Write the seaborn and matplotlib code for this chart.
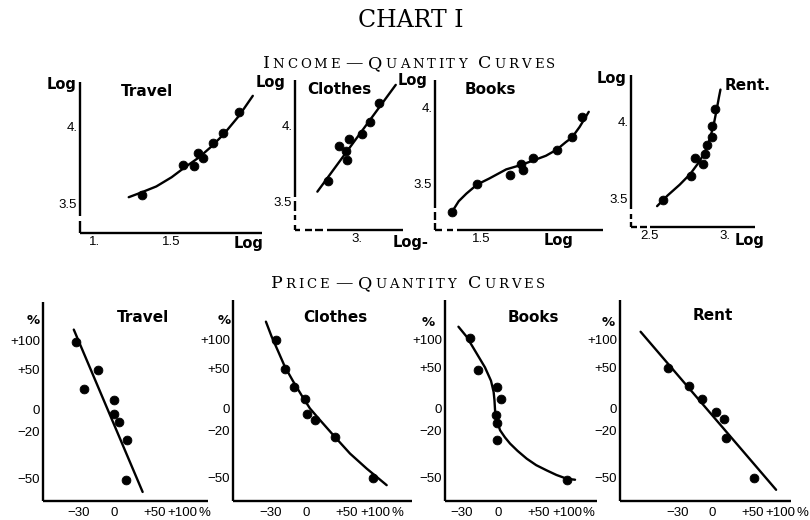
import numpy as np
import matplotlib
matplotlib.use("Agg")
import matplotlib.pyplot as plt
import seaborn as sns

# ---------------- Income - Quantity (log income vs log quantity) ----------------
inc_travel_x = [1.305, 1.577, 1.647, 1.675, 1.704, 1.767, 1.834, 1.943]
inc_travel_y = [3.553, 3.749, 3.743, 3.826, 3.793, 3.891, 3.961, 4.092]
inc_travel_cx = [1.22, 1.30, 1.40, 1.50, 1.58, 1.68, 1.76, 1.84, 1.94, 2.03]
inc_travel_cy = [3.54, 3.57, 3.61, 3.67, 3.73, 3.80, 3.87, 3.95, 4.07, 4.20]

inc_clothes_x = [2.814, 2.885, 2.929, 2.935, 2.953, 3.032, 3.087, 3.147]
inc_clothes_y = [3.636, 3.866, 3.834, 3.774, 3.912, 3.945, 4.026, 4.151]
inc_clothes_cx = [2.745, 3.253]
inc_clothes_cy = [3.566, 4.268]

inc_books_x = [1.304, 1.467, 1.685, 1.755, 1.772, 1.833, 1.995, 2.088, 2.158]
inc_books_y = [3.311, 3.494, 3.550, 3.627, 3.583, 3.664, 3.720, 3.801, 3.934]
inc_books_cx = [1.30, 1.35, 1.40, 1.47, 1.55, 1.66, 1.76, 1.84, 1.92, 1.99, 2.05, 2.09, 2.14, 2.20]
inc_books_cy = [3.30, 3.38, 3.43, 3.49, 3.53, 3.59, 3.62, 3.65, 3.68, 3.72, 3.77, 3.80, 3.87, 3.97]

inc_rent_x = [2.588, 2.775, 2.802, 2.852, 2.868, 2.883, 2.912, 2.916, 2.934]
inc_rent_y = [3.493, 3.646, 3.761, 3.722, 3.787, 3.848, 3.898, 3.972, 4.083]
inc_rent_cx = [2.55, 2.62, 2.70, 2.77, 2.83, 2.87, 2.90, 2.925, 2.945, 2.96, 2.97]
inc_rent_cy = [3.45, 3.52, 3.59, 3.66, 3.74, 3.81, 3.89, 3.98, 4.08, 4.16, 4.21]

# ---------------- Price - Quantity (% change price vs % change quantity) ----------------
pr_travel_x = [-31.4, -26.2, -14.6, 0.0, 0.5, 5.2, 13.6, 12.9]
pr_travel_y = [98.1, 23.6, 48.8, 9.9, -4.6, -11.7, -26.6, -50.7]
pr_travel_cx = [-33.2, 33.6]
pr_travel_cy = [124.3, -56.5]

pr_clothes_x = [-26.0, -19.0, -11.3, -1.0, 1.3, 9.4, 33.7, 96.2]
pr_clothes_y = [98.8, 48.5, 24.3, 9.5, -5.5, -10.5, -24.8, -50.0]
pr_clothes_cx = [-33.0, -29.1, -24.2, -19.0, -11.9, -4.2, 4.1, 15.1, 31.5, 55.4, 83.6, 124.3]
pr_clothes_cy = [139, 106, 77, 52, 31, 14, 0, -11, -23.5, -36.4, -45.3, -53.7]

pr_books_x = [-24.2, -17.6, -1.0, 3.0, -2.0, -0.3, -0.3, 100.9]
pr_books_y = [101.5, 46.8, 24.2, 10.5, -6.5, -13.1, -26.7, -50.9]
pr_books_cx = [-32.5, -26.7, -19.0, -12.0, -6.5, -4.0, -3.2, -2.6, -1.0, 2.4, 7.5, 13.1, 22.0, 33.7, 47.0, 63.3, 80.0, 99.5, 116.9]
pr_books_cy = [126.5, 104.9, 73.4, 51.0, 32.0, 18.0, 8.7, -2.0, -11.0, -19.5, -25.0, -29.5, -34.5, -39.4, -43.2, -46.1, -48.5, -50.4, -50.9]

pr_rent_x = [-36.1, -21.0, -9.6, 3.4, 12.1, 14.4, 51.8]
pr_rent_y = [50.3, 25.1, 10.5, -3.3, -10.1, -25.4, -50.0]
pr_rent_cx = [-51.7, 90.9]
pr_rent_cy = [115.4, -55.6]

inc_titles = ["Travel", "Clothes", "Books", "Rent."]
pr_titles = ["Travel", "Clothes", "Books", "Rent"]
pr_xticks = [-30, 0, 50, 100]
pr_xticklabels = ["\u221230", "0", "+50", "+100"]
pr_yticks = [100, 50, 0, -20, -50]
pr_yticklabels = ["+100", "+50", "0", "\u221220", "\u221250"]

# ---------------- figure ----------------
sns.set_theme(style="white")
plt.rcParams['font.family'] = ['DejaVu Sans']
NARROW = ["Liberation Sans Narrow", "Liberation Sans", "DejaVu Sans"]
W, H = 810, 520
PT = 0.72  # points per pixel at 100 dpi
SPINE_LW = 1.7
fig = plt.figure(figsize=(W / 100, H / 100), dpi=100)
fig.patch.set_facecolor("white")


def panel(L, R, T, B, ydash=None, xdash=None):
    ax = fig.add_axes([L / W, 1 - B / H, (R - L) / W, (B - T) / H])
    ax.set_facecolor("none")
    for sp in ["top", "right"]:
        ax.spines[sp].set_visible(False)
    for sp, dash in [("left", ydash), ("bottom", xdash)]:
        s = ax.spines[sp]
        s.set_linewidth(SPINE_LW)
        s.set_color("black")
        s.set_capstyle("butt")
        if dash:
            # dash lengths given in pixels; matplotlib scales dashes by linewidth
            seq = tuple(v * PT / SPINE_LW for v in dash) + (2000, 1)
            s.set_linestyle((0, seq))
    ax.tick_params(direction="in", length=4, width=1.3, pad=2, colors="black")
    return ax


def ftext(x, y, s, **kw):
    kw.setdefault("ha", "center")
    kw.setdefault("va", "center")
    kw.setdefault("color", "black")
    return fig.text(x / W, 1 - y / H, s, **kw)


def draw(ax, px, py, cx, cy):
    sns.lineplot(x=cx, y=cy, ax=ax, color="black", lw=1.7, sort=False,
                 estimator=None, zorder=2)
    sns.scatterplot(x=px, y=py, ax=ax, color="black", s=40, edgecolor="black",
                    linewidth=0.6, zorder=3, legend=False)


def style_ticks(ax, xt, xl, yt, yl, size=9.5):
    ax.set_xticks(xt)
    xs = ax.set_xticklabels(xl)
    ax.set_yticks(yt)
    ys = ax.set_yticklabels(yl)
    for t in list(xs) + list(ys):
        t.set_fontsize(size)
        t.set_family(NARROW)
    ax.set_xlabel("")
    ax.set_ylabel("")
    return xs, ys


# ---- income panels ----
inc_specs = [
    (80, 262, 82, 233, (0.902, 2.09), (3.307, 4.29), inc_travel_x, inc_travel_y, inc_travel_cx, inc_travel_cy,
     [1.0, 1.5, 2.0], ["1.", "1.5", "Log"], (12, 5), None),
    (295, 403, 80, 230, (2.60, 3.30), (3.314, 4.30), inc_clothes_x, inc_clothes_y, inc_clothes_cx, inc_clothes_cy,
     [3.0], ["3."], (5, 5, 5, 4, 10, 4), (5, 5, 7, 3, 8, 4)),
    (435, 603, 80, 230, (1.195, 2.293), (3.19, 4.18), inc_books_x, inc_books_y, inc_books_cx, inc_books_cy,
     [1.5, 2.0], ["1.5", "Log"], (7, 3, 8, 4), (7, 5, 6, 4)),
    (631, 755, 75, 227, (2.377, 3.199), (3.314, 4.305), inc_rent_x, inc_rent_y, inc_rent_cx, inc_rent_cy,
     [2.5, 3.0], ["2.5", "3."], (5, 3, 5, 5), (6, 3, 7, 3)),
]
for (L, R, T, B, xl, yl, px, py, cx, cy, xt, xtl, yd, xd) in inc_specs:
    ax = panel(L, R, T, B, yd, xd)
    draw(ax, px, py, cx, cy)
    ax.set_xlim(*xl)
    ax.set_ylim(*yl)
    xs, ys = style_ticks(ax, xt, xtl, [3.5, 4.0], ["3.5", "4."], size=9.5)
    for t in xs:
        if t.get_text() == "Log":
            t.set_fontweight("bold")
            t.set_fontsize(10.5)
            t.set_family("DejaVu Sans")

# Log axis labels and titles (income)
for (x, y) in [(62, 85), (271, 83), (413, 81), (612, 78)]:
    ftext(x, y, "Log", fontsize=10.5, fontweight="bold")
ftext(411, 242, "Log-", fontsize=10.5, fontweight="bold")
ftext(750, 241, "Log", fontsize=10.5, fontweight="bold")
for (x, y), s in zip([(147, 92), (339, 89), (490, 89), (748, 85)], inc_titles):
    ftext(x, y, s, fontsize=11, fontweight="bold")

# ---- price panels ----
def fwd(p):
    p = np.asarray(p, dtype=float)
    return np.log10(np.clip(1 + p / 100.0, 1e-6, None))


def inv(t):
    return (np.power(10.0, np.asarray(t, dtype=float)) - 1) * 100.0


pr_specs = [
    (43, 208, 302, 501, (-51.0, 158.0), (-60.3, 196.4), pr_travel_x, pr_travel_y, pr_travel_cx, pr_travel_cy),
    (233, 412, 300, 501, (-51.8, 189.0), (-60.5, 197.0), pr_clothes_x, pr_clothes_y, pr_clothes_cx, pr_clothes_cy),
    (445, 597, 300, 501, (-41.0, 170.2), (-60.3, 195.8), pr_books_x, pr_books_y, pr_books_cx, pr_books_cy),
    (620, 791, 300, 501, (-60.8, 122.0), (-60.3, 195.8), pr_rent_x, pr_rent_y, pr_rent_cx, pr_rent_cy),
]
for (L, R, T, B, xl, yl, px, py, cx, cy) in pr_specs:
    ax = panel(L, R, T, B)
    ax.set_xscale("function", functions=(fwd, inv))
    ax.set_yscale("function", functions=(fwd, inv))
    draw(ax, px, py, cx, cy)
    ax.set_xlim(*xl)
    ax.set_ylim(*yl)
    style_ticks(ax, pr_xticks, pr_xticklabels, pr_yticks, pr_yticklabels, size=9.5)
    ax.tick_params(axis="x", pad=4)
    ax.annotate("%", xy=(pr_xticks[-1], 0), xycoords=("data", "axes fraction"),
                xytext=(11.5, -4.6), textcoords="offset points", ha="left", va="top",
                fontsize=9.5, family=NARROW, color="black")

for (x, y) in [(33, 320), (224, 320), (428, 322), (608, 322)]:
    ftext(x, y, "%", fontsize=9.5, fontweight="bold")
for (x, y), s in zip([(143, 317), (335, 317), (533, 317), (713, 316)], pr_titles):
    ftext(x, y, s, fontsize=11, fontweight="bold")

# ---------------- headings ----------------
ftext(411, 27, "CHART I", fontsize=17, family="DejaVu Serif", va="baseline")

renderer = fig.canvas.get_renderer()


def small_caps(y_px, cx_px, parts, tracking):
    items = []
    for s, size in parts:
        if s is None:
            items.append((None, size))
            continue
        for ch in s:
            t = fig.text(0, 1 - y_px / H, ch, fontsize=size, family="DejaVu Serif",
                         va="baseline", ha="left", color="black")
            w = t.get_window_extent(renderer).width
            items.append((t, w + tracking))
    total = sum(w for _, w in items) - tracking
    x = cx_px - total / 2
    for t, w in items:
        if t is not None:
            t.set_x(x / W)
        x += w


BIG, SMALL = 12.5, 9.5
small_caps(68, 409, [("I", BIG), ("NCOME", SMALL), (None, 3), ("\u2014", BIG), (None, 3),
                     ("Q", BIG), ("UANTITY", SMALL), (None, 9), ("C", BIG), ("URVES", SMALL)], 2.8)
small_caps(288, 408, [("P", BIG), ("RICE", SMALL), (None, 3), ("\u2014", BIG), (None, 3),
                      ("Q", BIG), ("UANTITY", SMALL), (None, 9), ("C", BIG), ("URVES", SMALL)], 2.8)

fig.savefig("out.png", dpi=100, facecolor="white")
